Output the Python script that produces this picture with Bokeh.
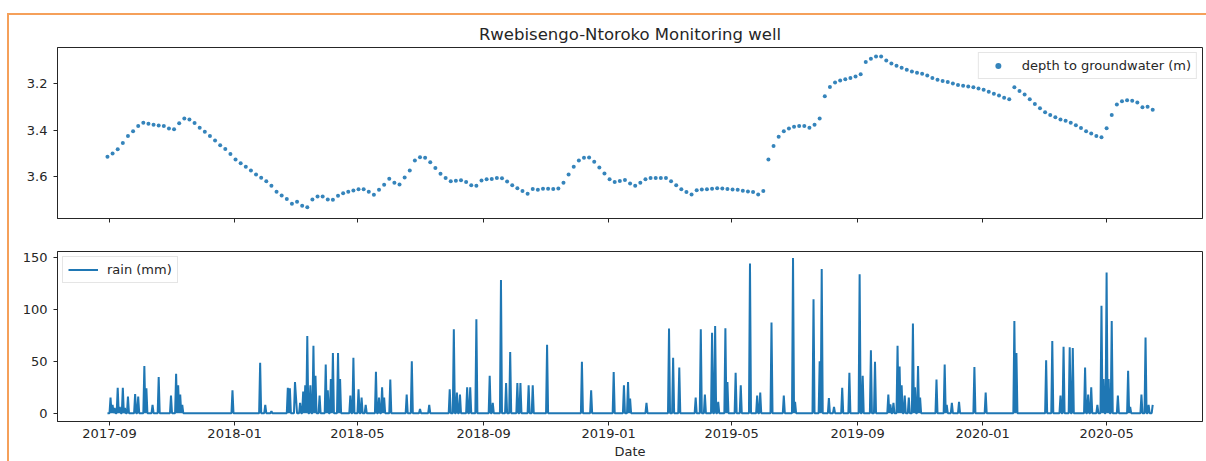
import pandas as pd
from bokeh.plotting import figure
from bokeh.layouts import column
from bokeh.models import Range1d, FixedTicker, Legend, LegendItem, ColumnDataSource
from bokeh.embed import file_html
from bokeh.resources import INLINE

TITLE = "Rwebisengo-Ntoroko Monitoring well"
DEPTH_LABEL = "depth to groundwater (m)"
RAIN_LABEL = "rain (mm)"
X_LABEL = "Date"

# Groundwater depth below surface (m), one reading every 5 days from depth_start
depth_start = "2017-08-30"
depth_step = "5D"
depth_m = [
    3.514, 3.500, 3.482, 3.455, 3.425, 3.405, 3.382, 3.368, 3.372, 3.377,
    3.380, 3.382, 3.393, 3.396, 3.370, 3.350, 3.354, 3.369, 3.389, 3.407,
    3.425, 3.444, 3.464, 3.480, 3.502, 3.525, 3.542, 3.557, 3.573, 3.590,
    3.604, 3.619, 3.638, 3.663, 3.680, 3.695, 3.715, 3.706, 3.723, 3.730,
    3.697, 3.684, 3.684, 3.697, 3.698, 3.681, 3.670, 3.664, 3.658, 3.653,
    3.653, 3.663, 3.676, 3.655, 3.633, 3.608, 3.625, 3.632, 3.603, 3.572,
    3.530, 3.516, 3.518, 3.537, 3.562, 3.586, 3.605, 3.619, 3.616, 3.614,
    3.622, 3.636, 3.638, 3.615, 3.610, 3.609, 3.605, 3.606, 3.620, 3.636,
    3.649, 3.660, 3.672, 3.652, 3.655, 3.651, 3.651, 3.652, 3.650, 3.625,
    3.590, 3.556, 3.530, 3.518, 3.517, 3.535, 3.560, 3.585, 3.610, 3.622,
    3.617, 3.613, 3.628, 3.638, 3.625, 3.610, 3.605, 3.605, 3.605, 3.605,
    3.619, 3.636, 3.653, 3.665, 3.675, 3.657, 3.654, 3.653, 3.651, 3.649,
    3.650, 3.652, 3.654, 3.655, 3.659, 3.662, 3.665, 3.675, 3.660, 3.525,
    3.468, 3.428, 3.405, 3.393, 3.385, 3.382, 3.382, 3.390, 3.377, 3.350,
    3.255, 3.215, 3.196, 3.187, 3.182, 3.177, 3.170, 3.160, 3.108, 3.094,
    3.084, 3.085, 3.102, 3.114, 3.124, 3.133, 3.141, 3.149, 3.154, 3.158,
    3.166, 3.177, 3.184, 3.189, 3.194, 3.200, 3.206, 3.210, 3.213, 3.216,
    3.221, 3.227, 3.235, 3.244, 3.252, 3.261, 3.268, 3.216, 3.232, 3.247,
    3.267, 3.288, 3.306, 3.323, 3.335, 3.345, 3.354, 3.360, 3.368, 3.379,
    3.391, 3.404, 3.414, 3.425, 3.430, 3.392, 3.335, 3.290, 3.276, 3.272,
    3.274, 3.281, 3.302, 3.300, 3.313,
]

# Daily rainfall record: days with rain and their totals (mm); all other days are dry
rain_first_day = "2017-08-30"
rain_last_day = "2020-06-15"
rain_dates = [
    "2017-09-02", "2017-09-04", "2017-09-06", "2017-09-09", "2017-09-11", "2017-09-14",
    "2017-09-16", "2017-09-19", "2017-09-26", "2017-09-29", "2017-10-05", "2017-10-07",
    "2017-10-13", "2017-10-19", "2017-10-31", "2017-11-05", "2017-11-07", "2017-11-09",
    "2017-11-11", "2017-12-30",
    "2018-01-26", "2018-01-31", "2018-02-06", "2018-02-22", "2018-02-24", "2018-03-01",
    "2018-03-02", "2018-03-06", "2018-03-09", "2018-03-11", "2018-03-13", "2018-03-16",
    "2018-03-19", "2018-03-21", "2018-03-25", "2018-03-31", "2018-04-02", "2018-04-05",
    "2018-04-07", "2018-04-12", "2018-04-14", "2018-04-24", "2018-04-27", "2018-05-02",
    "2018-05-05", "2018-05-09", "2018-05-19", "2018-05-22", "2018-05-25", "2018-05-27",
    "2018-06-02", "2018-06-18", "2018-06-23", "2018-07-01", "2018-07-10", "2018-07-30",
    "2018-08-03", "2018-08-06", "2018-08-09", "2018-08-16", "2018-08-19", "2018-08-25",
    "2018-09-07", "2018-09-10", "2018-09-18", "2018-09-23", "2018-09-27", "2018-10-04",
    "2018-10-07", "2018-10-15", "2018-10-19", "2018-11-02", "2018-12-06", "2018-12-15",
    "2019-01-06", "2019-01-16", "2019-01-20", "2019-01-22", "2019-02-07", "2019-03-01",
    "2019-03-05", "2019-03-11", "2019-03-27", "2019-04-01", "2019-04-05", "2019-04-12",
    "2019-04-15", "2019-04-18", "2019-04-25", "2019-04-27", "2019-05-05", "2019-05-10",
    "2019-05-19", "2019-05-26", "2019-05-29", "2019-06-09", "2019-06-21", "2019-06-30",
    "2019-07-02", "2019-07-20", "2019-07-26", "2019-07-28", "2019-08-04", "2019-08-09",
    "2019-08-17", "2019-08-24", "2019-09-03", "2019-09-06", "2019-09-14", "2019-09-18",
    "2019-10-01", "2019-10-03", "2019-10-06", "2019-10-10", "2019-10-12", "2019-10-14",
    "2019-10-17", "2019-10-21", "2019-10-25", "2019-10-27", "2019-10-30", "2019-11-01",
    "2019-11-17", "2019-11-25", "2019-11-27", "2019-12-02", "2019-12-09", "2019-12-24",
    "2020-01-04", "2020-02-01", "2020-02-03", "2020-03-03", "2020-03-09", "2020-03-17",
    "2020-03-20", "2020-03-26", "2020-03-29", "2020-04-10", "2020-04-13", "2020-04-16",
    "2020-04-22", "2020-04-26", "2020-04-28", "2020-05-01", "2020-05-03", "2020-05-06",
    "2020-05-12", "2020-05-22", "2020-05-24", "2020-06-04", "2020-06-08", "2020-06-11",
    "2020-06-15",
]
rain_mm = [
    15, 8, 5, 24.5, 6, 24.5,
    5, 16, 18.5, 16, 45.5, 24,
    8, 35, 17, 38, 27, 18,
    8, 22,
    48.7, 8, 2, 24.5, 24, 30,
    15, 10, 21, 27, 74.5, 27,
    65, 36, 17, 47, 22, 33,
    58, 58, 33, 17, 53.5, 23,
    15, 8, 40, 15, 25, 15,
    32.6, 18, 50, 4, 8, 23,
    81, 20, 18, 25, 25, 90.7,
    36, 10, 128.5, 29, 59, 29,
    29, 27, 27, 66, 49.7, 22,
    39.7, 27, 30, 14, 10, 81.6,
    53.5, 44, 15, 81, 18, 77.7,
    84, 11, 82, 30, 39, 27,
    144.5, 17, 20, 87.4, 17, 149.7,
    11, 110, 50, 139, 14.5, 6,
    24.5, 39, 134, 36, 60.7, 49.7,
    18, 8.5, 10, 65, 45, 27,
    17, 15, 86.5, 25, 45.5, 15,
    32.6, 47, 8, 10, 11, 44.5,
    20, 89, 58, 51, 69.7, 17,
    64, 63.5, 63, 44, 18, 25,
    8, 103.6, 33, 135.8, 33, 89,
    17, 41, 6, 18, 73, 8,
    8,
]

tick_months = ["2017-09", "2018-01", "2018-05", "2018-09", "2019-01",
               "2019-05", "2019-09", "2020-01", "2020-05"]
depth_ticks = [3.2, 3.4, 3.6]
rain_ticks = [0, 50, 100, 150]

BLUE = "#1f77b4"
FONT = "DejaVu Sans"
INK = "#262626"

depth_src = ColumnDataSource(dict(
    date=pd.date_range(depth_start, periods=len(depth_m), freq=depth_step),
    depth=depth_m,
))

rain_series = pd.Series(0.0, index=pd.date_range(rain_first_day, rain_last_day, freq="D"))
for d, v in zip(rain_dates, rain_mm):
    rain_series[pd.Timestamp(d)] = v
rain_src = ColumnDataSource(dict(date=rain_series.index, rain=rain_series.values))

x_range = Range1d(pd.Timestamp("2017-07-12 06:00"), pd.Timestamp("2020-08-02 14:00"))
tick_ms = [pd.Timestamp(m + "-01").value // 10**6 for m in tick_months]


def style(p):
    p.outline_line_color = INK
    p.outline_line_width = 1
    p.xgrid.visible = False
    p.ygrid.visible = False
    p.background_fill_color = "white"
    p.border_fill_color = "white"
    for ax in (p.xaxis[0], p.yaxis[0]):
        ax.axis_line_color = INK
        ax.major_tick_line_color = INK
        ax.major_tick_out = 4
        ax.major_tick_in = 0
        ax.minor_tick_line_color = None
        ax.major_label_text_font = FONT
        ax.major_label_text_font_size = "13px"
        ax.major_label_text_color = INK
    p.xaxis.ticker = FixedTicker(ticks=tick_ms)
    p.xaxis.major_label_overrides = {t: m for t, m in zip(tick_ms, tick_months)}
    p.yaxis.major_label_standoff = 6
    p.xaxis.major_label_standoff = 3


# Upper panel: depth to groundwater, depth increasing downward
p1 = figure(width=1197, height=220, x_axis_type="datetime", x_range=x_range,
            y_range=Range1d(3.778, 3.046), output_backend="svg", toolbar_location=None,
            min_border_left=48, min_border_right=4, min_border_top=32, min_border_bottom=17)
style(p1)
p1.yaxis.ticker = FixedTicker(ticks=depth_ticks)
# shared date axis: ticks only, the dates are labelled on the lower panel
p1.xaxis.major_label_text_font_size = "1px"
p1.xaxis.major_label_text_color = None
p1.title.text = TITLE
p1.title.align = "center"
p1.title.text_font = FONT
p1.title.text_font_size = "16.5px"
p1.title.text_font_style = "normal"
p1.title.text_color = INK
p1.title.standoff = 8
r_depth = p1.scatter("date", "depth", source=depth_src, size=4, color=BLUE,
                     line_color=None, alpha=0.9)
leg1 = Legend(items=[LegendItem(label=DEPTH_LABEL, renderers=[r_depth])],
              location="top_right", margin=5, padding=5, spacing=0,
              glyph_width=28, glyph_height=15, label_height=15, label_standoff=10,
              label_text_font=FONT, label_text_font_size="13px", label_text_color=INK,
              border_line_color="#cccccc", background_fill_alpha=0.8)
p1.add_layout(leg1)

# Lower panel: daily rainfall
p2 = figure(width=1197, height=226, x_axis_type="datetime", x_range=x_range,
            y_range=Range1d(-8, 156), output_backend="svg", toolbar_location=None,
            min_border_left=48, min_border_right=4, min_border_top=16, min_border_bottom=40)
style(p2)
p2.yaxis.ticker = FixedTicker(ticks=rain_ticks)
p2.xaxis.axis_label = X_LABEL
p2.xaxis.axis_label_text_font = FONT
p2.xaxis.axis_label_text_font_size = "13px"
p2.xaxis.axis_label_text_font_style = "normal"
p2.xaxis.axis_label_text_color = INK
p2.xaxis.axis_label_standoff = 3
r_rain = p2.line("date", "rain", source=rain_src, line_width=2, color=BLUE)
leg2 = Legend(items=[LegendItem(label=RAIN_LABEL, renderers=[r_rain])],
              location="top_left", margin=5, padding=5, spacing=0,
              glyph_width=30, glyph_height=15, label_height=15, label_standoff=9,
              label_text_font=FONT, label_text_font_size="13px", label_text_color=INK,
              border_line_color="#cccccc", background_fill_alpha=0.8)
p2.add_layout(leg2)

page = column(p1, p2, margin=(13, 0, 0, 7),
              styles={"border-top": "2px solid #f5a05a", "border-left": "2px solid #f5a05a"})

open("out.html", "w").write(file_html(page, INLINE))
